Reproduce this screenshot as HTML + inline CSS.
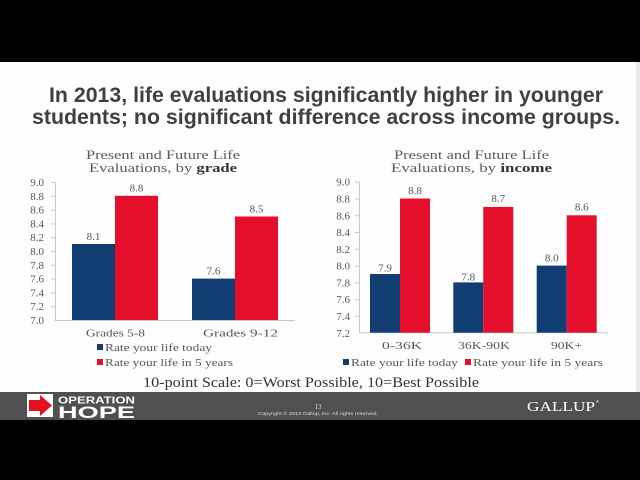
<!DOCTYPE html>
<html>
<head>
<meta charset="utf-8">
<style>
html,body{margin:0;padding:0;background:#000;}
svg{display:block;}
</style>
</head>
<body>
<svg width="640" height="480" viewBox="0 0 640 480" xmlns="http://www.w3.org/2000/svg">
  <!-- backgrounds -->
  <rect x="0" y="0" width="640" height="480" fill="#000"/>
  <rect x="0" y="62" width="640" height="330" fill="#fefefe"/>
  <rect x="636" y="62" width="4" height="330" fill="#e8e8e8"/>
  <rect x="0" y="392" width="640" height="28" fill="#505050"/>

  <!-- Title -->
  <g font-family="'Liberation Sans', Arial, sans-serif" font-weight="bold" font-size="21" fill="#404040">
    <text x="49" y="102" textLength="554" lengthAdjust="spacingAndGlyphs">In 2013, life evaluations significantly higher in younger</text>
    <text x="32" y="124" textLength="588" lengthAdjust="spacingAndGlyphs">students; no significant difference across income groups.</text>
  </g>

  <!-- LEFT CHART -->
  <g font-family="'Liberation Serif', Georgia, serif" fill="#5a5a5a">
    <text x="86" y="159" font-size="13" textLength="154" lengthAdjust="spacingAndGlyphs">Present and Future Life</text>
    <text x="89" y="172" font-size="13" textLength="148" lengthAdjust="spacingAndGlyphs">Evaluations, by <tspan font-weight="bold" fill="#333">grade</tspan></text>
  </g>
  <g stroke="#c8c8c8" stroke-width="1">
    <line x1="55.5" y1="182" x2="55.5" y2="320"/>
    <line x1="55" y1="320.5" x2="295" y2="320.5"/>
    <line x1="51" y1="182.5" x2="55" y2="182.5"/>
    <line x1="51" y1="196.3" x2="55" y2="196.3"/>
    <line x1="51" y1="210.1" x2="55" y2="210.1"/>
    <line x1="51" y1="223.9" x2="55" y2="223.9"/>
    <line x1="51" y1="237.7" x2="55" y2="237.7"/>
    <line x1="51" y1="251.5" x2="55" y2="251.5"/>
    <line x1="51" y1="265.3" x2="55" y2="265.3"/>
    <line x1="51" y1="279.1" x2="55" y2="279.1"/>
    <line x1="51" y1="292.9" x2="55" y2="292.9"/>
    <line x1="51" y1="306.7" x2="55" y2="306.7"/>
  </g>
  <g font-family="'Liberation Serif', Georgia, serif" font-size="11" fill="#555" text-anchor="end">
    <text x="44" y="186">9.0</text>
    <text x="44" y="199.8">8.8</text>
    <text x="44" y="213.6">8.6</text>
    <text x="44" y="227.4">8.4</text>
    <text x="44" y="241.2">8.2</text>
    <text x="44" y="255">8.0</text>
    <text x="44" y="268.8">7.8</text>
    <text x="44" y="282.6">7.6</text>
    <text x="44" y="296.4">7.4</text>
    <text x="44" y="310.2">7.2</text>
    <text x="44" y="324">7.0</text>
  </g>
  <rect x="72" y="244" width="43" height="76" fill="#103e72"/>
  <rect x="115" y="195.8" width="43" height="124.2" fill="#e50f2b"/>
  <rect x="192" y="278.6" width="43" height="41.4" fill="#103e72"/>
  <rect x="235" y="216.5" width="43" height="103.5" fill="#e50f2b"/>
  <g font-family="'Liberation Serif', Georgia, serif" font-size="11" fill="#555" text-anchor="middle">
    <text x="93.5" y="240">8.1</text>
    <text x="136.5" y="191.5">8.8</text>
    <text x="213.5" y="274.5">7.6</text>
    <text x="256.5" y="212.5">8.5</text>
    <text x="115.5" y="336.5" textLength="59" lengthAdjust="spacingAndGlyphs">Grades 5-8</text>
    <text x="240.5" y="336.5" textLength="75" lengthAdjust="spacingAndGlyphs">Grades 9-12</text>
  </g>
  <!-- left legend -->
  <rect x="97" y="344" width="6" height="6" fill="#103e72"/>
  <rect x="97" y="359" width="6" height="6" fill="#e50f2b"/>
  <g font-family="'Liberation Serif', Georgia, serif" font-size="11" fill="#555">
    <text x="105" y="351" textLength="107" lengthAdjust="spacingAndGlyphs">Rate your life today</text>
    <text x="105" y="366" textLength="128" lengthAdjust="spacingAndGlyphs">Rate your life in 5 years</text>
  </g>

  <!-- RIGHT CHART -->
  <g font-family="'Liberation Serif', Georgia, serif" fill="#5a5a5a">
    <text x="394" y="159" font-size="13" textLength="155" lengthAdjust="spacingAndGlyphs">Present and Future Life</text>
    <text x="391" y="172" font-size="13" textLength="161" lengthAdjust="spacingAndGlyphs">Evaluations, by <tspan font-weight="bold" fill="#333">income</tspan></text>
  </g>
  <g stroke="#c8c8c8" stroke-width="1">
    <line x1="359.5" y1="181.7" x2="359.5" y2="332.7"/>
    <line x1="359" y1="332.7" x2="608" y2="332.7"/>
    <line x1="355" y1="182.2" x2="359" y2="182.2"/>
    <line x1="355" y1="199" x2="359" y2="199"/>
    <line x1="355" y1="215.8" x2="359" y2="215.8"/>
    <line x1="355" y1="232.5" x2="359" y2="232.5"/>
    <line x1="355" y1="249.3" x2="359" y2="249.3"/>
    <line x1="355" y1="266.1" x2="359" y2="266.1"/>
    <line x1="355" y1="282.9" x2="359" y2="282.9"/>
    <line x1="355" y1="299.7" x2="359" y2="299.7"/>
    <line x1="355" y1="316.4" x2="359" y2="316.4"/>
  </g>
  <g font-family="'Liberation Serif', Georgia, serif" font-size="11" fill="#555" text-anchor="end">
    <text x="350" y="185.7">9.0</text>
    <text x="350" y="202.5">8.8</text>
    <text x="350" y="219.3">8.6</text>
    <text x="350" y="236.1">8.4</text>
    <text x="350" y="252.9">8.2</text>
    <text x="350" y="269.7">8.0</text>
    <text x="350" y="286.4">7.8</text>
    <text x="350" y="303.2">7.6</text>
    <text x="350" y="320">7.4</text>
    <text x="350" y="336.8">7.2</text>
  </g>
  <rect x="370" y="274" width="30" height="58.7" fill="#103e72"/>
  <rect x="400" y="198.5" width="30" height="134.2" fill="#e50f2b"/>
  <rect x="453.3" y="282.4" width="30" height="50.3" fill="#103e72"/>
  <rect x="483.3" y="206.9" width="30" height="125.8" fill="#e50f2b"/>
  <rect x="536.7" y="265.6" width="30" height="67.1" fill="#103e72"/>
  <rect x="566.7" y="215.3" width="30" height="117.4" fill="#e50f2b"/>
  <g font-family="'Liberation Serif', Georgia, serif" font-size="11" fill="#555" text-anchor="middle">
    <text x="385" y="271.5">7.9</text>
    <text x="415" y="194">8.8</text>
    <text x="468.3" y="280.5">7.8</text>
    <text x="498.3" y="202">8.7</text>
    <text x="551.7" y="261.5">8.0</text>
    <text x="581.7" y="210.5">8.6</text>
    <text x="402" y="349" textLength="40" lengthAdjust="spacingAndGlyphs">0-36K</text>
    <text x="484" y="349" textLength="52" lengthAdjust="spacingAndGlyphs">36K-90K</text>
    <text x="566.5" y="349" textLength="31" lengthAdjust="spacingAndGlyphs">90K+</text>
  </g>
  <!-- right legend -->
  <rect x="343" y="359" width="6" height="6" fill="#103e72"/>
  <rect x="465" y="359" width="6" height="6" fill="#e50f2b"/>
  <g font-family="'Liberation Serif', Georgia, serif" font-size="11" fill="#555">
    <text x="351" y="366" textLength="107" lengthAdjust="spacingAndGlyphs">Rate your life today</text>
    <text x="473" y="366" textLength="130" lengthAdjust="spacingAndGlyphs">Rate your life in 5 years</text>
  </g>

  <!-- scale note -->
  <text x="143" y="387" font-family="'Liberation Serif', Georgia, serif" font-size="15" fill="#333" textLength="336" lengthAdjust="spacingAndGlyphs">10-point Scale: 0=Worst Possible, 10=Best Possible</text>

  <!-- footer: Operation HOPE logo -->
  <rect x="27" y="394" width="26" height="23" fill="#fff"/>
  <polygon points="29,400 40,400 40,395 52,405.5 40,416 40,411 29,411" fill="#e3101f"/>
  <text x="58" y="403.5" font-family="'Liberation Sans', Arial, sans-serif" font-weight="bold" font-size="10" fill="#fff" textLength="77" lengthAdjust="spacingAndGlyphs">OPERATION</text>
  <text x="58" y="418" font-family="'Liberation Sans', Arial, sans-serif" font-weight="bold" font-size="17" fill="#fff" textLength="77" lengthAdjust="spacingAndGlyphs">HOPE</text>

  <!-- page number & copyright -->
  <text x="318" y="409" font-family="'Liberation Serif', serif" font-size="7" fill="#ddd" text-anchor="middle">13</text>
  <text x="318" y="415" font-family="'Liberation Sans', sans-serif" font-size="4.5" fill="#ddd" text-anchor="middle" textLength="120" lengthAdjust="spacingAndGlyphs">Copyright © 2013 Gallup, Inc. All rights reserved.</text>

  <!-- GALLUP -->
  <text x="527" y="411" font-family="'Liberation Serif', Georgia, serif" font-size="14" fill="#fff" textLength="68" lengthAdjust="spacingAndGlyphs">GALLUP</text>
  <text x="596" y="403" font-family="'Liberation Sans', sans-serif" font-size="4" fill="#fff">®</text>
</svg>
</body>
</html>
